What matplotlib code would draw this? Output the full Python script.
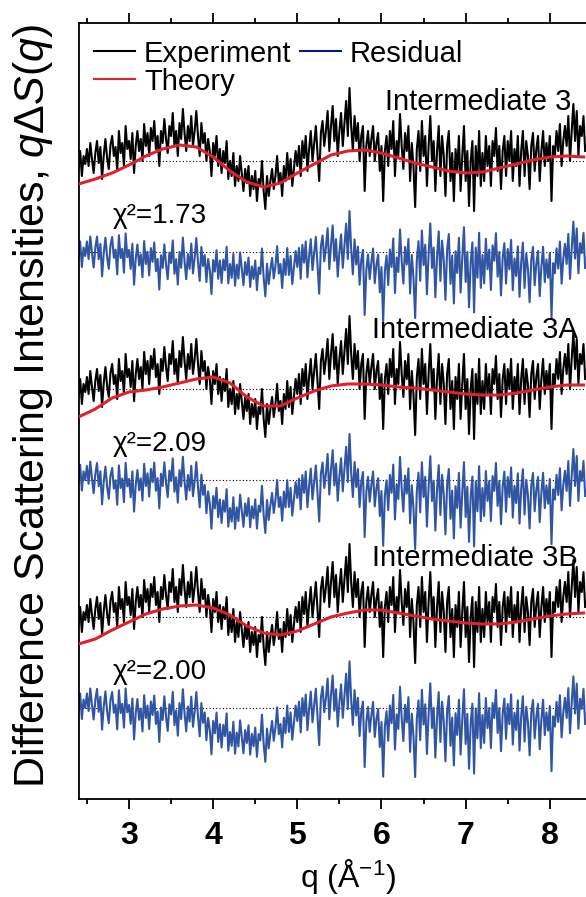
import numpy as np
import matplotlib.pyplot as plt
from matplotlib.lines import Line2D
from matplotlib.ticker import MultipleLocator

plt.rcParams['font.family'] = ['Liberation Sans', 'DejaVu Sans']
plt.rcParams['mathtext.fontset'] = 'custom'
plt.rcParams['mathtext.rm'] = 'Liberation Sans'
plt.rcParams['mathtext.it'] = 'Liberation Sans:italic'

# experimental difference signal q*dS(q), sampled every 0.02 A^-1 from 2.40
q0, dq = 2.40, 0.02
experiment = [
    -0.08, 0.10, -0.15, 0.05, -0.03, 0.12, -0.05, 0.18, 0.02, -0.12,
    0.08, 0.20, -0.02, 0.14, -0.18, 0.06, 0.22, 0.03, -0.08, 0.16,
    0.25, 0.05, 0.14, -0.10, 0.30, 0.08, 0.18, -0.05, 0.35, 0.12,
    0.20, 0.02, 0.28, -0.12, 0.15, 0.30, 0.10, 0.22, 0.00, 0.37,
    0.15, 0.28, 0.05, 0.33, 0.20, 0.40, 0.12, 0.25, -0.05, 0.30,
    0.18, 0.42, 0.22, 0.08, 0.35, 0.25, 0.48, 0.15, 0.30, 0.05,
    0.38, 0.22, 0.52, 0.28, 0.10, 0.35, 0.20, 0.45, 0.15, 0.30,
    0.50, 0.25, 0.05, 0.38, 0.18, 0.28, 0.00, 0.22, 0.10, -0.15,
    0.18, 0.05, 0.25, -0.05, 0.12, -0.12, 0.10, -0.02, 0.20, -0.18,
    0.00, -0.15, 0.08, -0.25, -0.05, -0.20, 0.05, -0.12, -0.30, -0.08,
    -0.22, -0.05, -0.35, -0.15, -0.28, -0.10, -0.40, -0.18, -0.25, 0.00,
    -0.30, -0.48, -0.15, -0.35, -0.20, -0.08, -0.28, -0.15, 0.05, -0.22,
    -0.12, -0.35, -0.05, -0.20, 0.08, -0.18, 0.02, -0.25, -0.08, 0.10,
    -0.05, 0.15, -0.15, 0.20, 0.03, 0.25, -0.10, 0.12, 0.30, 0.00,
    0.18, 0.35, 0.08, -0.20, 0.28, 0.40, 0.15, 0.30, 0.50, 0.10,
    0.35, 0.55, 0.20, 0.42, 0.05, 0.30, 0.48, 0.15, 0.38, 0.60,
    0.25, 0.73, 0.35, 0.10, 0.45, 0.20, 0.38, 0.00, 0.25, 0.35,
    -0.30, 0.15, 0.30, 0.05, 0.22, 0.35, 0.00, 0.18, 0.28, -0.10,
    0.15, -0.40, 0.10, 0.25, -0.05, 0.30, 0.12, 0.40, -0.15, 0.20,
    0.05, 0.47, 0.15, -0.08, 0.28, 0.10, 0.35, -0.20, 0.18, -0.05,
    -0.46, 0.12, 0.30, -0.10, 0.40, 0.05, 0.25, -0.25, 0.15, 0.45,
    0.00, 0.20, -0.30, 0.10, 0.35, -0.15, 0.25, 0.05, -0.35, 0.15,
    0.30, -0.20, 0.08, -0.40, 0.12, -0.10, 0.25, -0.30, 0.05, 0.35,
    -0.20, 0.10, -0.45, 0.00, 0.20, -0.50, 0.15, -0.15, 0.30, -0.25,
    0.08, -0.20, 0.25, -0.05, 0.15, -0.25, 0.20, 0.05, 0.33, -0.10,
    0.15, -0.28, 0.10, 0.25, -0.15, 0.20, 0.00, 0.30, -0.20, 0.12,
    -0.05, 0.25, -0.25, 0.10, 0.30, -0.15, 0.20, 0.05, -0.28, 0.15,
    0.28, -0.10, 0.12, 0.25, -0.20, 0.10, 0.30, -0.05, 0.18, 0.00,
    0.25, -0.40, 0.15, 0.05, 0.30, 0.10, 0.37, -0.05, 0.20, 0.35,
    0.15, 0.45, 0.00, 0.30, 0.57, 0.20, 0.50, 0.05, 0.35, 0.25,
    0.45, 0.10,
]

# fitted theory curves, every 0.2 A^-1 from 2.4 to 8.4
q_theory = [2.4, 2.6, 2.8, 3.0, 3.2, 3.4, 3.6, 3.8, 4.0, 4.2, 4.4, 4.6, 4.8,
            5.0, 5.2, 5.4, 5.6, 5.8, 6.0, 6.2, 6.4, 6.6, 6.8, 7.0, 7.2, 7.4,
            7.6, 7.8, 8.0, 8.2, 8.4]
theory_3 = [-0.23, -0.18, -0.12, -0.04, 0.05, 0.12, 0.16, 0.14, 0.04, -0.10,
            -0.21, -0.26, -0.22, -0.12, -0.03, 0.06, 0.10, 0.11, 0.08, 0.03,
            -0.02, -0.06, -0.10, -0.12, -0.11, -0.07, -0.03, 0.01, 0.04, 0.05, 0.04]
theory_3a = [-0.28, -0.20, -0.09, -0.03, -0.01, 0.02, 0.06, 0.10, 0.12, 0.06,
             -0.08, -0.17, -0.17, -0.09, -0.02, 0.03, 0.05, 0.05, 0.04, 0.02,
             0.01, -0.01, -0.03, -0.05, -0.06, -0.06, -0.04, -0.01, 0.02, 0.04, 0.04]
theory_3b = [-0.27, -0.22, -0.13, -0.05, 0.03, 0.08, 0.11, 0.12, 0.09, 0.02,
             -0.09, -0.16, -0.18, -0.14, -0.07, 0.00, 0.04, 0.07, 0.07, 0.04,
             0.01, -0.02, -0.04, -0.06, -0.07, -0.07, -0.05, -0.02, 0.01, 0.03, 0.04]

names = ['Intermediate 3', 'Intermediate 3A', 'Intermediate 3B']
name_x = [8.26, 8.33, 8.33]
chi2 = ['1.73', '2.09', '2.00']
theories = [theory_3, theory_3a, theory_3b]
offsets = [0.0, -2.28, -4.56]
res_line = -0.91     # dotted guide under the residual
res_shift = -1.13    # where the residual trace is drawn

q = q0 + dq * np.arange(len(experiment))
exp = np.array(experiment)

fig = plt.figure(figsize=(5.86, 8.97), dpi=100)
ax = fig.add_axes([78.5 / 586, 1 - 799 / 897, 1 - 78.5 / 586, (799 - 23) / 897])

red = '#e0202a'
blue = '#3056a3'
for name, nx, c2, th, off in zip(names, name_x, chi2, theories, offsets):
    th_q = np.interp(q, q_theory, th)
    resid = exp - th_q
    ax.axhline(off, color='k', ls=(0, (1, 2)), lw=0.8, zorder=1)
    ax.axhline(off + res_line, color='k', ls=(0, (1, 2)), lw=0.8, zorder=1)
    ax.plot(q, resid + off + res_shift, color=blue, lw=1.5, zorder=2)
    ax.plot(q, exp + off, color='k', lw=1.5, zorder=2)
    ax.plot(q_theory, np.array(th) + off, color=red, lw=2.2, zorder=3)
    ax.text(nx, off + 0.51, name, ha='right', va='baseline', fontsize=21)
    ax.text(2.81, off - 0.62, 'χ²=' + c2, ha='left', va='baseline', fontsize=20)

ax.set_xlim(2.4, 8.43)
ax.set_ylim(-6.38, 1.38)
ax.xaxis.set_major_locator(MultipleLocator(1))
ax.xaxis.set_minor_locator(MultipleLocator(0.5))
ax.set_yticks([])
ax.tick_params(axis='x', which='both', direction='out', top=True, labeltop=False, width=1.3)
ax.tick_params(axis='x', which='major', length=7, pad=9, labelsize=23)
ax.tick_params(axis='x', which='minor', length=3.5)
for lab in ax.get_xticklabels():
    lab.set_fontweight('bold')
for s in ['left', 'bottom', 'top']:
    ax.spines[s].set_linewidth(1.3)
ax.spines['right'].set_visible(False)

ax.set_xlabel('q (Å$^{-1}$)', fontsize=23)
ax.xaxis.set_label_coords((348 - 78.5) / 507.5, -0.075)
fig.text(33 / 586, 1 - 406 / 897, r'Difference Scattering Intensities, $q\Delta S(q)$',
         rotation=90, ha='center', va='center', fontsize=31)

handles = [Line2D([], [], color='k', lw=1.5),
           Line2D([], [], color=red, lw=1.5),
           Line2D([], [], color='#0a1a7a', lw=1.5)]
ax.legend(handles, ['Experiment', 'Theory', 'Residual'], ncol=2, loc='upper left',
          bbox_to_anchor=(0.02, 0.986), frameon=False, fontsize=21,
          handlelength=1.4, handletextpad=0.3, columnspacing=0.3,
          labelspacing=0.0, borderaxespad=0, borderpad=0.2)

fig.savefig('out.png', dpi=100)
